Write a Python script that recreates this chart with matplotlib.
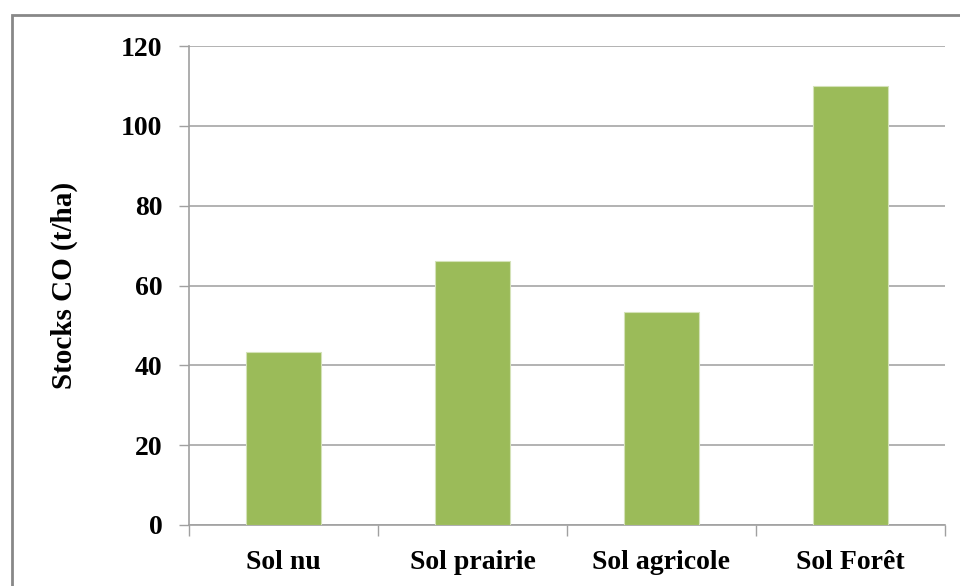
import matplotlib.pyplot as plt
from matplotlib.patches import Rectangle
import numpy as np

# Soil carbon stocks per land use
categories = ['Sol nu', 'Sol prairie', 'Sol agricole', 'Sol Forêt']
stocks = [43.3, 66.2, 53.3, 110.0]
yticks = [0, 20, 40, 60, 80, 100, 120]

plt.rcParams['font.family'] = ['Liberation Serif', 'DejaVu Serif']
plt.rcParams['font.weight'] = 'bold'

fig = plt.figure(figsize=(9.6, 5.86), dpi=100)
ax = fig.add_axes([189 / 960, 1 - 525 / 586, (945 - 189) / 960, (525 - 46) / 586])

x = np.arange(len(categories))
ax.bar(x, stocks, width=0.4, color='#9bbb59', edgecolor='#d4e2b8', linewidth=0.8, zorder=3)

ax.set_xlim(-0.5, len(categories) - 0.5)
ax.set_ylim(0, 120)
ax.set_yticks(yticks)
ax.set_yticklabels([str(v) for v in yticks], fontsize=20, fontweight='bold')
ax.set_xticks(x)
ax.set_xticklabels(categories, fontsize=20, fontweight='bold')
ax.set_xticks(np.arange(len(categories) + 1) - 0.5, minor=True)

ax.tick_params(axis='y', length=7, width=1, color='#a0a0a0', direction='out', pad=12)
ax.tick_params(axis='x', which='major', length=0, pad=18)
ax.tick_params(axis='x', which='minor', length=8, width=1, color='#a0a0a0', direction='out')

ax.grid(axis='y', color='#a6a6a6', linewidth=1.2, zorder=0)
ax.set_axisbelow(True)
for side in ['top', 'right']:
    ax.spines[side].set_visible(False)
for side in ['left', 'bottom']:
    ax.spines[side].set_color('#a0a0a0')
    ax.spines[side].set_linewidth(1.2)

ax.set_ylabel('Stocks CO (t/ha)', fontsize=21, fontweight='bold', labelpad=31)

# outer chart frame
frame = Rectangle((12 / 960, -0.2), 1.2, 1.2 - 15 / 586, transform=fig.transFigure,
                  fill=False, edgecolor='#888888', linewidth=2, clip_on=False)
fig.patches.append(frame)

fig.savefig('out.png', dpi=100)
